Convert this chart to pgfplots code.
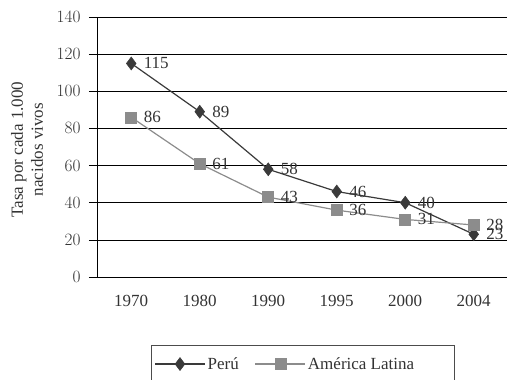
\documentclass[border=0pt]{standalone}
\usepackage{pgfplots}
\pgfplotsset{compat=1.18}
\usepackage{fontspec}
\setmainfont{Liberation Serif}
\definecolor{peru}{HTML}{3A3A3A}
\definecolor{amer}{HTML}{8C8C8C}
\definecolor{txt}{HTML}{333333}
\begin{document}
\begin{tikzpicture}
\clip (0pt,0pt) rectangle (507pt,380pt);
\useasboundingbox (0pt,0pt) rectangle (507pt,380pt);
\begin{axis}[
  at={(97pt,103pt)}, anchor=south west,
  scale only axis, width=411pt, height=260pt,
  xmin=-0.5, xmax=5.5, ymin=0, ymax=140,
  ytick={0,20,...,140},
  xtick={0,1,2,3,4,5},
  xticklabels={1970,1980,1990,1995,2000,2004},
  extra x ticks={-0.5,0.5,1.5,2.5,3.5,4.5,5.5},
  extra x tick labels={},
  extra x tick style={major tick length=6pt, tick style={black, line width=0.6pt}},
  axis x line*=bottom, axis y line*=left,
  axis line style={black, line width=0.8pt, -},
  tick align=outside,
  x tick style={draw=none},
  y tick style={black, line width=0.6pt},
  major tick length=8pt,
  ymajorgrids, grid style={black, line width=0.6pt},
  tick label style={font=\fontsize{17}{17}\selectfont, text=txt},
  xticklabel style={yshift=-7pt},
  yticklabel style={xshift=-5pt},
  ylabel={Tasa por cada 1.000\\nacidos vivos},
  ylabel style={font=\fontsize{17}{20}\selectfont, align=center, text=txt, at={(rel axis cs:-0.170,0.49)}, anchor=center, rotate=0},
  legend style={at={(rel axis cs:0.1314,-0.2615)}, anchor=north west, draw=black!70, line width=0.8pt,
    font=\fontsize{17}{17}\selectfont, text=txt, legend columns=2,
    inner xsep=3pt, inner ysep=10pt,
    /tikz/every even column/.append style={column sep=14pt}},
  legend image code/.code={\draw[#1, mark repeat=2, mark phase=2] plot coordinates {(0pt,0pt) (25pt,0pt) (50pt,0pt)};},
  nodes near coords, point meta=explicit symbolic,
  every node near coord/.append style={font=\fontsize{17}{17}\selectfont, text=txt, anchor=west, xshift=9pt},
  clip=false,
]
\addplot[peru, line width=1.2pt, mark=diamond*, mark size=6.5pt, mark options={fill=peru, line width=0.5pt}]
  coordinates {(0,115)[115] (1,89)[89] (2,58)[58] (3,46)[46] (4,40)[40] (5,23)[23]};
\addlegendentry{Perú}
\addplot[amer, line width=1.2pt, mark=square*, mark size=5.5pt, mark options={fill=amer, line width=0.5pt}]
  coordinates {(0,86)[86] (1,61)[61] (2,43)[43] (3,36)[36] (4,31)[31] (5,28)[28]};
\addlegendentry{América Latina\kern35pt\rule{0pt}{1pt}}
\end{axis}
\end{tikzpicture}
\end{document}
